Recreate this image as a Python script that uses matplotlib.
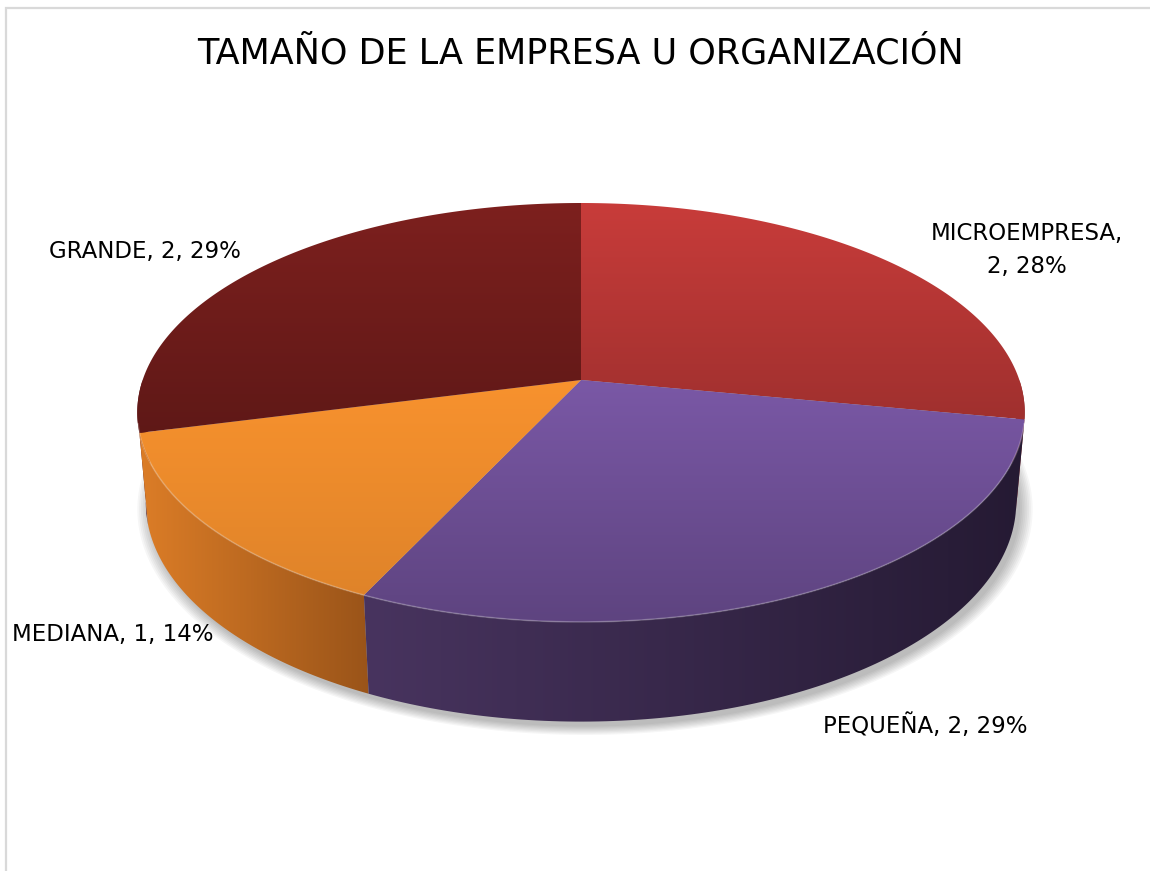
import numpy as np
import matplotlib
matplotlib.use('Agg')
import matplotlib.pyplot as plt
from matplotlib.patches import Polygon
from matplotlib.colors import to_rgb

# data
labels = ['MICROEMPRESA', 'PEQUEÑA', 'MEDIANA', 'GRANDE']
counts = [2, 2, 1, 2]
pcts = [28, 29, 14, 29]

top_cols = ['#C83C3A', '#7A58A6', '#F8922E', '#7D201E']
top_dark = [0.80, 0.77, 0.90, 0.76]
wall_cols = [('#9A2A29', '#7E2020'), ('#48345F', '#251A33'),
             ('#DC7D27', '#9A5419'), ('#5E1414', '#4A1010')]
label_off = [(138, -11), (113, 134), (-93, 110), (-120, -14)]

plt.rcParams['font.family'] = ['DejaVu Sans']

fig = plt.figure(figsize=(11.5, 8.71), dpi=100)
ax = fig.add_axes([0, 0, 1, 1])
ax.axis('off')

# perspective view of a flat disc (radius 1, height H)
cx, cy = 581, 380
phi = np.radians(27.8)
c, s = np.cos(phi), np.sin(phi)
D = 6.45 * c
F = 177 * (D + c) / s
H = 0.234


def proj(a, z=0.0, r=1.0):
    X, Y = r * np.cos(a), r * np.sin(a)
    w = Y * c - z * s + D
    v = Y * s + z * c
    return np.column_stack([cx + F * X / w, cy - F * v / w])


def grad_fill(verts, c0, c1, horizontal, z):
    poly = Polygon(verts, closed=True, facecolor='none', edgecolor='none')
    ax.add_patch(poly)
    t = np.linspace(0, 1, 256)[:, None]
    cols = (1 - t) * np.array(to_rgb(c0)) + t * np.array(to_rgb(c1))
    img = cols[None, :, :] if horizontal else cols[:, None, :]
    xs, ys = verts[:, 0], verts[:, 1]
    im = ax.imshow(img, extent=(xs.min(), xs.max(), ys.max(), ys.min()),
                   origin='upper', aspect='auto', interpolation='bilinear', zorder=z)
    im.set_clip_path(poly)


frac = np.array(pcts) / sum(pcts)
edges = np.radians(90 - 360 * np.concatenate([[0], np.cumsum(frac)]))

# soft shadow under the disc
full = np.linspace(0, 2 * np.pi, 400)
for k in range(8):
    sh = proj(full, -H, 1.0 + 0.004 * k) + np.array([4, 5])
    ax.add_patch(Polygon(sh, closed=True, facecolor='#000000', edgecolor='none',
                         alpha=0.035, zorder=1))

# side walls (front half only), back-most first
order = [0, 3, 2, 1]
for i in order:
    a0, a1 = edges[i], edges[i + 1]
    lo, hi = max(min(a0, a1), -np.pi), min(max(a0, a1), 0)
    if hi <= lo:
        lo, hi = max(min(a0, a1) + 2 * np.pi, -np.pi), min(max(a0, a1) + 2 * np.pi, 0)
    if hi <= lo:
        continue
    a = np.linspace(lo, hi, 120)
    verts = np.vstack([proj(a, 0), proj(a[::-1], -H)])
    grad_fill(verts, wall_cols[i][0], wall_cols[i][1], True, 2)

# top faces
for i in range(4):
    a = np.linspace(edges[i], edges[i + 1], 200)
    verts = np.vstack([[[cx, cy]], proj(a, 0)])
    c0 = np.array(to_rgb(top_cols[i]))
    grad_fill(verts, c0, c0 * top_dark[i], False, 3)

# light bevel along the front rim
rim = proj(np.linspace(-np.radians(168), -np.radians(12), 200), 0)
ax.plot(rim[:, 0], rim[:, 1], color='white', alpha=0.22, lw=1.2, zorder=4)

# data labels
for i in range(4):
    mid = (edges[i] + edges[i + 1]) / 2
    px, py = proj(np.array([mid]), 0)[0]
    if len(labels[i]) > 10:
        txt = f'{labels[i]},\n{counts[i]}, {pcts[i]}%'
    else:
        txt = f'{labels[i]}, {counts[i]}, {pcts[i]}%'
    ax.text(px + label_off[i][0], py + label_off[i][1], txt, ha='center', va='center',
            fontsize=16.5, color='#000000', linespacing=1.55, zorder=5)

ax.text(580, 53, 'TAMAÑO DE LA EMPRESA U ORGANIZACIÓN', ha='center', va='center',
        fontsize=25.2, color='#000000', zorder=5)

# chart border (cut at right and bottom)
ax.plot([5.5, 5.5, 1152], [873, 8.5, 8.5], color='#D9D9D9', lw=1.6, zorder=5,
        solid_joinstyle='miter')

ax.set_xlim(0, 1150)
ax.set_ylim(871, 0)
fig.savefig('out.png', dpi=100, facecolor='white')
